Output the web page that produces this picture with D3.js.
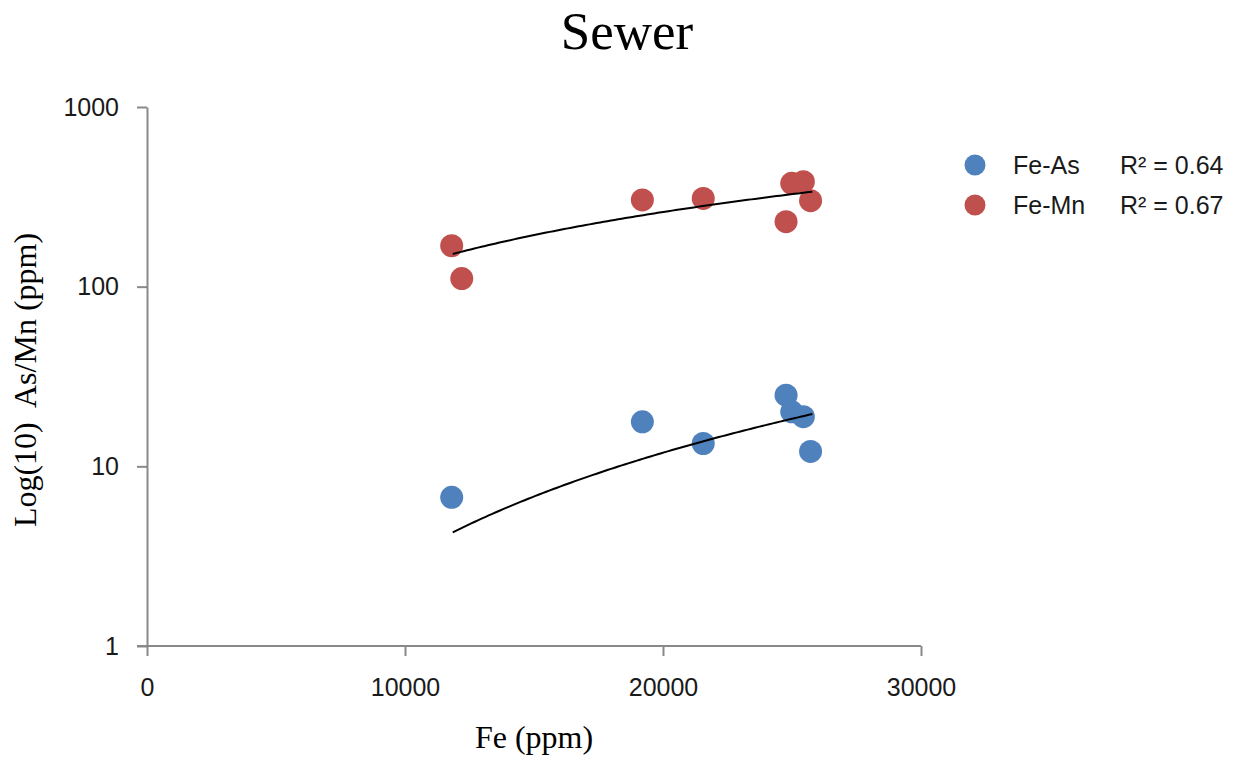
<!DOCTYPE html>
<html><head><meta charset="utf-8">
<script src="https://cdn.jsdelivr.net/npm/d3@7"></script>
<style>body{margin:0;background:#fff}svg{display:block}</style>
</head><body>
<svg id="c" width="1242" height="759"></svg>
<script>
const title = "Sewer";
const xLabel = "Fe (ppm)";
const yLabel = "Log(10)  As/Mn (ppm)";
const xTicks = [0, 10000, 20000, 30000];
const yTicks = [1, 10, 100, 1000];
// Fe-As samples
const feAsX = [11810, 19200, 21560, 24770, 24990, 25440, 25720];
const feAsY = [6.72, 17.7, 13.4, 24.9, 20.1, 18.9, 12.1];
// Fe-Mn samples
const feMnX = [11810, 12200, 19200, 21560, 24770, 24990, 25440, 25720];
const feMnY = [169, 111, 304, 310, 230, 376, 384, 301];
// power trendline endpoints
const trendX = [11850, 25790];
const asTrendY = [4.29, 19.55];
const mnTrendY = [152, 338];
const seriesNames = ["Fe-As", "Fe-Mn"];
const r2Labels = ["R\u00B2 = 0.64", "R\u00B2 = 0.67"];
const colors = ["#4F81BD", "#C0504D"];

const svg = d3.select("#c");
const x = d3.scaleLinear().domain([0, 30000]).range([147, 921]);
const y = d3.scaleLog().domain([1, 1000]).range([646, 107]);
const axisColor = "#898989";

// axes
const gx = svg.append("g").attr("transform", "translate(0,646)")
  .call(d3.axisBottom(x).tickValues(xTicks).tickFormat(d3.format("d")).tickSizeInner(10).tickSizeOuter(0).tickPadding(22));
const gy = svg.append("g").attr("transform", "translate(147,0)")
  .call(d3.axisLeft(y).tickValues(yTicks).tickFormat(d3.format("d")).tickSizeInner(10).tickSizeOuter(0).tickPadding(18));
[gx, gy].forEach(g => {
  g.select(".domain").attr("stroke", axisColor).attr("stroke-width", 2);
  g.selectAll(".tick line").attr("stroke", axisColor).attr("stroke-width", 2);
  g.selectAll(".tick text").attr("fill", "#1a1a1a").attr("font-family", "Liberation Sans, Arial, sans-serif").attr("font-size", 25);
});
gx.select(".domain").attr("d", `M${x(0)-10},0H${x(30000)}`);

function powerCurve(xs, ys) {
  const b = Math.log(ys[1] / ys[0]) / Math.log(xs[1] / xs[0]);
  const a = ys[0] / Math.pow(xs[0], b);
  return d3.range(0, 101).map(i => {
    const xv = xs[0] + (xs[1] - xs[0]) * i / 100;
    return [xv, a * Math.pow(xv, b)];
  });
}
const line = d3.line().x(d => x(d[0])).y(d => y(d[1]));

const asData = feAsX.map((v, i) => [v, feAsY[i]]);
const mnData = feMnX.map((v, i) => [v, feMnY[i]]);
svg.append("g").selectAll("circle").data(mnData).join("circle")
  .attr("cx", d => x(d[0])).attr("cy", d => y(d[1])).attr("r", 11.5).attr("fill", colors[1]);
svg.append("g").selectAll("circle").data(asData).join("circle")
  .attr("cx", d => x(d[0])).attr("cy", d => y(d[1])).attr("r", 11.5).attr("fill", colors[0]);

[asTrendY, mnTrendY].forEach(ty => {
  svg.append("path").datum(powerCurve(trendX, ty)).attr("d", line)
    .attr("fill", "none").attr("stroke", "#000").attr("stroke-width", 2);
});

svg.append("text").attr("x", 627).attr("y", 49).attr("text-anchor", "middle")
  .attr("font-family", "Liberation Serif, Times New Roman, serif").attr("font-size", 53).attr("fill", "#000").text(title);
svg.append("text").attr("x", 534).attr("y", 748).attr("text-anchor", "middle")
  .attr("font-family", "Liberation Serif, Times New Roman, serif").attr("font-size", 32).attr("fill", "#000").text(xLabel);
svg.append("text").attr("transform", "translate(36,380) rotate(-90)").attr("text-anchor", "middle")
  .attr("xml:space", "preserve").style("white-space", "pre")
  .attr("font-family", "Liberation Serif, Times New Roman, serif").attr("font-size", 32).attr("fill", "#000").text(yLabel);

const leg = svg.append("g");
seriesNames.forEach((n, i) => {
  const cy = 165 + i * 40;
  leg.append("circle").attr("cx", 975).attr("cy", cy).attr("r", 10.5).attr("fill", colors[i]);
  leg.append("text").attr("x", 1013).attr("y", cy + 9).attr("font-family", "Liberation Sans, Arial, sans-serif")
    .attr("font-size", 25).attr("fill", "#1a1a1a").text(n);
  leg.append("text").attr("x", 1120).attr("y", cy + 9).attr("font-family", "Liberation Sans, Arial, sans-serif")
    .attr("font-size", 25).attr("fill", "#1a1a1a").text(r2Labels[i]);
});
</script>
</body></html>
